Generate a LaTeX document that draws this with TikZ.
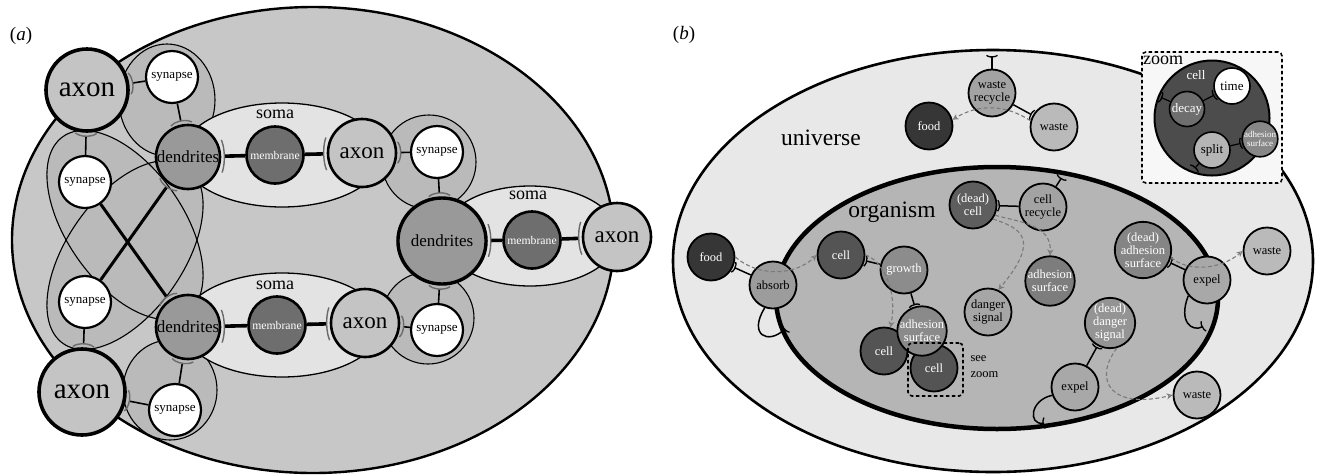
\documentclass[tikz,border=0pt]{standalone}
\usepackage{fontspec}
\setmainfont{Liberation Serif}
\newfontfamily\tms{Liberation Serif}
\usetikzlibrary{arrows.meta,shapes.geometric}

\definecolor{bgA}{gray}{0.78}
\definecolor{ringA}{gray}{0.73}
\definecolor{somaA}{gray}{0.89}
\definecolor{axonA}{gray}{0.77}
\definecolor{dendA}{gray}{0.60}
\definecolor{membA}{gray}{0.43}
\definecolor{tipA}{gray}{0.42}
\definecolor{univB}{gray}{0.91}
\definecolor{orgB}{gray}{0.71}
\definecolor{foodB}{gray}{0.21}
\definecolor{cellB}{gray}{0.33}
\definecolor{dcellB}{gray}{0.37}
\definecolor{growB}{gray}{0.55}
\definecolor{absB}{gray}{0.61}
\definecolor{wasteB}{gray}{0.73}
\definecolor{recB}{gray}{0.64}
\definecolor{adhB}{gray}{0.54}
\definecolor{adhmB}{gray}{0.49}
\definecolor{dangB}{gray}{0.65}
\definecolor{dadhB}{gray}{0.52}
\definecolor{ddangB}{gray}{0.58}
\definecolor{expB}{gray}{0.66}
\definecolor{flowB}{gray}{0.48}
\definecolor{boxB}{gray}{0.97}
\definecolor{zcellB}{gray}{0.30}
\definecolor{decB}{gray}{0.43}
\definecolor{splB}{gray}{0.71}
\definecolor{zadhB}{gray}{0.53}

\newcommand{\fsz}[2]{\tms\fontsize{#1}{#2}\selectfont}

\tikzset{
  unit/.style={circle, draw, inner sep=0pt, align=center},
  axbig/.style={unit, fill=axonA, line width=3.6pt, minimum size=82pt, font=\fsz{29}{30}},
  ax/.style={unit, fill=axonA, line width=2.6pt, minimum size=68pt, font=\fsz{23}{24}},
  syn/.style={unit, fill=white, line width=2.2pt, minimum size=52pt, font=\fsz{13}{14}},
  dend/.style={unit, fill=dendA, line width=2.6pt, minimum size=64pt, font=\fsz{17}{18}},
  memb/.style={unit, fill=membA, line width=2.6pt, minimum size=57pt, text=white, font=\fsz{11.7}{12}},
  soma/.style={draw, fill=somaA, line width=1.3pt},
  ring/.style={line width=1.1pt},
  bind/.style={-{Arc Barb[reversed, width=26pt, length=7pt, arc=120, line width=1.4pt, color=tipA]}},
  hold/.style={bind, line width=1.6pt},
  cross/.style={bind, line width=3pt},
  link/.style={line width=3.6pt, -{Arc Barb[reversed, width=44pt, length=8pt, arc=100, line width=1.4pt, color=tipA]}},
  ent/.style={unit, line width=1.8pt, minimum size=47pt, font=\fsz{12.5}{13}},
  lbl/.style={font=\fsz{23.5}{24}},
  holdB/.style={line width=1.5pt, -{Arc Barb[reversed, width=14pt, length=4pt, arc=120, line width=1.3pt]}},
  flow/.style={draw=flowB, line width=1.1pt, dash pattern=on 4pt off 2.5pt, -{Stealth[open, length=6pt, width=6pt, line width=0.8pt]}},
  zbox/.style={draw, line width=1.6pt, dash pattern=on 3.5pt off 2.5pt, rounded corners=4pt, inner sep=0pt},
}

\begin{document}
\begin{tikzpicture}[x=1pt, y=-1pt]
\useasboundingbox (0,0) rectangle (1318,475);

\node [font=\fsz{19}{20}] (pa) at (21,36) {(\textit{a})};

\draw [line width=2.4pt, fill=bgA] (313,240) ellipse [x radius=301, y radius=233];

\fill [ringA, rotate around={-55:(125,225)}] (125,225) ellipse [x radius=108, y radius=58];
\fill [ringA, rotate around={55:(125,255)}] (125,255) ellipse [x radius=108, y radius=58];
\fill [ringA] (167,100) ellipse [x radius=48, y radius=56];
\fill [ringA] (429,162) circle [radius=47];
\fill [ringA] (428,318) circle [radius=46];
\fill [ringA] (170,390) ellipse [x radius=47, y radius=50];
\draw [ring, rotate around={-55:(125,225)}] (125,225) ellipse [x radius=108, y radius=58];
\draw [ring, rotate around={55:(125,255)}] (125,255) ellipse [x radius=108, y radius=58];
\draw [ring] (167,100) ellipse [x radius=48, y radius=56];
\draw [ring] (429,162) circle [radius=47];
\draw [ring] (428,318) circle [radius=46];
\draw [ring] (170,390) ellipse [x radius=47, y radius=50];

\draw [soma] (282,155) ellipse [x radius=100, y radius=52];
\draw [soma] (282,325) ellipse [x radius=100, y radius=52];
\draw [soma] (530,236) ellipse [x radius=88, y radius=50];
\node [font=\fsz{18}{18}] (so1) at (275,114) {soma};
\node [font=\fsz{18}{18}] (so2) at (275,285) {soma};
\node [font=\fsz{18}{18}] (so3) at (528,195) {soma};

\node [axbig] (ax1) at (87,90) {axon};
\node [axbig, minimum size=86pt] (ax2) at (82,392) {axon};
\node [ax] (ax3) at (362,153) {axon};
\node [ax] (ax4) at (365,323) {axon};
\node [ax] (ax5) at (617,237) {axon};
\node [syn] (sy1) at (172,77) {synapse};
\node [syn] (sy2) at (85,182) {synapse};
\node [syn] (sy3) at (85,302) {synapse};
\node [syn] (sy4) at (175,410) {synapse};
\node [syn] (sy5) at (437,152) {synapse};
\node [syn] (sy6) at (437,330) {synapse};
\node [dend] (de1) at (188,157) {dendrites};
\node [dend] (de2) at (188,327) {dendrites};
\node [dend, ellipse, minimum width=64pt, minimum height=86pt, line width=3.4pt] (de3) at (442,241) {dendrites};
\node [memb] (me1) at (275,155) {membrane};
\node [memb] (me2) at (277,325) {membrane};
\node [memb] (me3) at (532,240) {membrane};

\draw [link] (me1) edge (de1) (me1) edge (ax3);
\draw [link] (me2) edge (de2) (me2) edge (ax4);
\draw [link] (me3) edge (de3) (me3) edge (ax5);

\draw [hold] (sy1) edge (ax1) (sy1) edge (de1);
\draw [hold] (sy2) edge (ax1);
\draw [hold] (sy3) edge (ax2);
\draw [hold] (sy4) edge (ax2) (sy4) edge (de2);
\draw [hold] (sy5) edge (ax3) (sy5) edge (de3);
\draw [hold] (sy6) edge (ax4) (sy6) edge (de3);
\draw [cross] (sy2) edge (de2);
\draw [cross] (sy3) edge (de1);

\node [font=\fsz{19}{20}] (pb) at (684,35) {(\textit{b})};

\draw [line width=2.6pt, fill=univB] (993,261) ellipse [x radius=320, y radius=211];
\draw [line width=4.5pt, fill=orgB] (997,298) ellipse [x radius=221, y radius=131];
\node [lbl] (uni) at (821,138) {universe};
\node [lbl] (org) at (892,212) {organism};

\coordinate (u1) at (992,55);
\coordinate (o1) at (1062,177);
\coordinate (o2) at (786,328);
\coordinate (o3) at (1204,326);
\coordinate (o4) at (1045,423);

\node [ent, fill=foodB, text=white] (fd1) at (929,126) {food};
\node [ent, fill=recB] (wr) at (992,93) {waste\\recycle};
\node [ent, fill=wasteB] (ws1) at (1054,127) {waste};
\node [ent, fill=dcellB, text=white] (dc) at (973,205) {(dead)\\cell};
\node [ent, fill=recB] (cr) at (1043,207) {cell\\recycle};
\node [ent, fill=foodB, text=white] (fd2) at (711,257) {food};
\node [ent, fill=absB] (ab) at (773,285) {absorb};
\node [ent, fill=cellB, text=white] (ce1) at (841,255) {cell};
\node [ent, fill=growB, text=white] (gr) at (904,270) {growth};
\node [ent, fill=cellB, text=white] (ce2) at (884,351) {cell};
\node [ent, fill=cellB, text=white] (ce3) at (934,368) {cell};
\node [ent, fill=adhB, text=white] (ad1) at (922,331) {adhesion\\surface};
\node [ent, fill=dangB] (ds) at (988,312) {danger\\signal};
\node [ent, fill=adhmB, text=white] (ad2) at (1050,281) {adhesion\\surface};
\node [ent, fill=dadhB, text=white] (da) at (1143,250) {(dead)\\adhesion\\surface};
\node [ent, fill=expB] (ex1) at (1207,280) {expel};
\node [ent, fill=wasteB] (ws2) at (1267,251) {waste};
\node [ent, fill=ddangB, text=white] (dd) at (1110,323) {(dead)\\danger\\signal};
\node [ent, fill=expB] (ex2) at (1075,387) {expel};
\node [ent, fill=wasteB] (ws3) at (1197,395) {waste};

\node [zbox, minimum width=55pt, minimum height=53pt] (zs) at (935.5,369.5) {};
\node [font=\fsz{12.5}{16}, align=left, anchor=west] (sz) at (967,367) {see\\zoom};

\node [zbox, fill=boxB, minimum width=140pt, minimum height=131pt] (zb) at (1212,117.5) {};
\node [unit, fill=zcellB, line width=2pt, minimum size=115pt] (zc) at (1212,118) {};
\node [font=\fsz{18}{18}] (zl) at (1163,60) {zoom};
\node [text=white, font=\fsz{13}{13}] (zcl) at (1196,75) {cell};
\node [unit, fill=white, line width=1.6pt, minimum size=36pt, font=\fsz{13}{13}] (zt) at (1232,86) {time};
\node [unit, fill=decB, text=white, line width=1.6pt, minimum size=35pt, font=\fsz{13}{13}] (zd) at (1187,109) {decay};
\node [unit, fill=splB, line width=1.6pt, minimum size=36pt, font=\fsz{13}{13}] (sp) at (1212,150) {split};
\node [unit, fill=zadhB, text=white, line width=1.6pt, minimum size=32pt, font=\fsz{9}{9.5}] (za) at (1260,139) {adhesion\\surface};
\coordinate (z1) at (1160,97);
\coordinate (z2) at (1194,169);

\draw [holdB] (wr) edge (u1) (wr) edge (ws1);
\draw [holdB] (cr) edge (o1) (cr) edge (dc);
\draw [holdB] (ab) edge (fd2);
\draw [holdB] (gr) edge (ce1) (gr) edge (ad1);
\draw [holdB] (ex1) edge (da);
\draw [holdB] (ex2) edge (dd);
\draw [holdB] (ab.250) .. controls (748,335) and (768,345) .. (o2);
\draw [holdB] (ex1.220) .. controls (1178,322) and (1192,332) .. (o3);
\draw [holdB] (ex2.200) .. controls (1030,400) and (1028,425) .. (o4);
\draw [holdB, line width=1.2pt] (zd) edge (zt) (sp) edge (za) (zd) edge (z1) (sp) edge (z2);

\draw [flow] (ws1.165) .. controls (1005,104) and (978,104) .. (fd1.15);
\draw [flow] (fd2.east) .. controls (758,277) and (795,276) .. (ce1.west);
\draw [flow] (ce1.east) .. controls (882,260) and (898,290) .. (ce2.75);
\draw [flow] (dc.-25) .. controls (1020,222) and (1052,225) .. (ad2.north);
\draw [flow] (dc.-35) .. controls (1020,228) and (1042,238) .. (ds.65);
\draw [flow] (da.-15) .. controls (1188,272) and (1220,270) .. (ws2.west);
\draw [flow] (dd.-75) .. controls (1093,380) and (1110,410) .. (ws3.west);

\end{tikzpicture}
\end{document}
